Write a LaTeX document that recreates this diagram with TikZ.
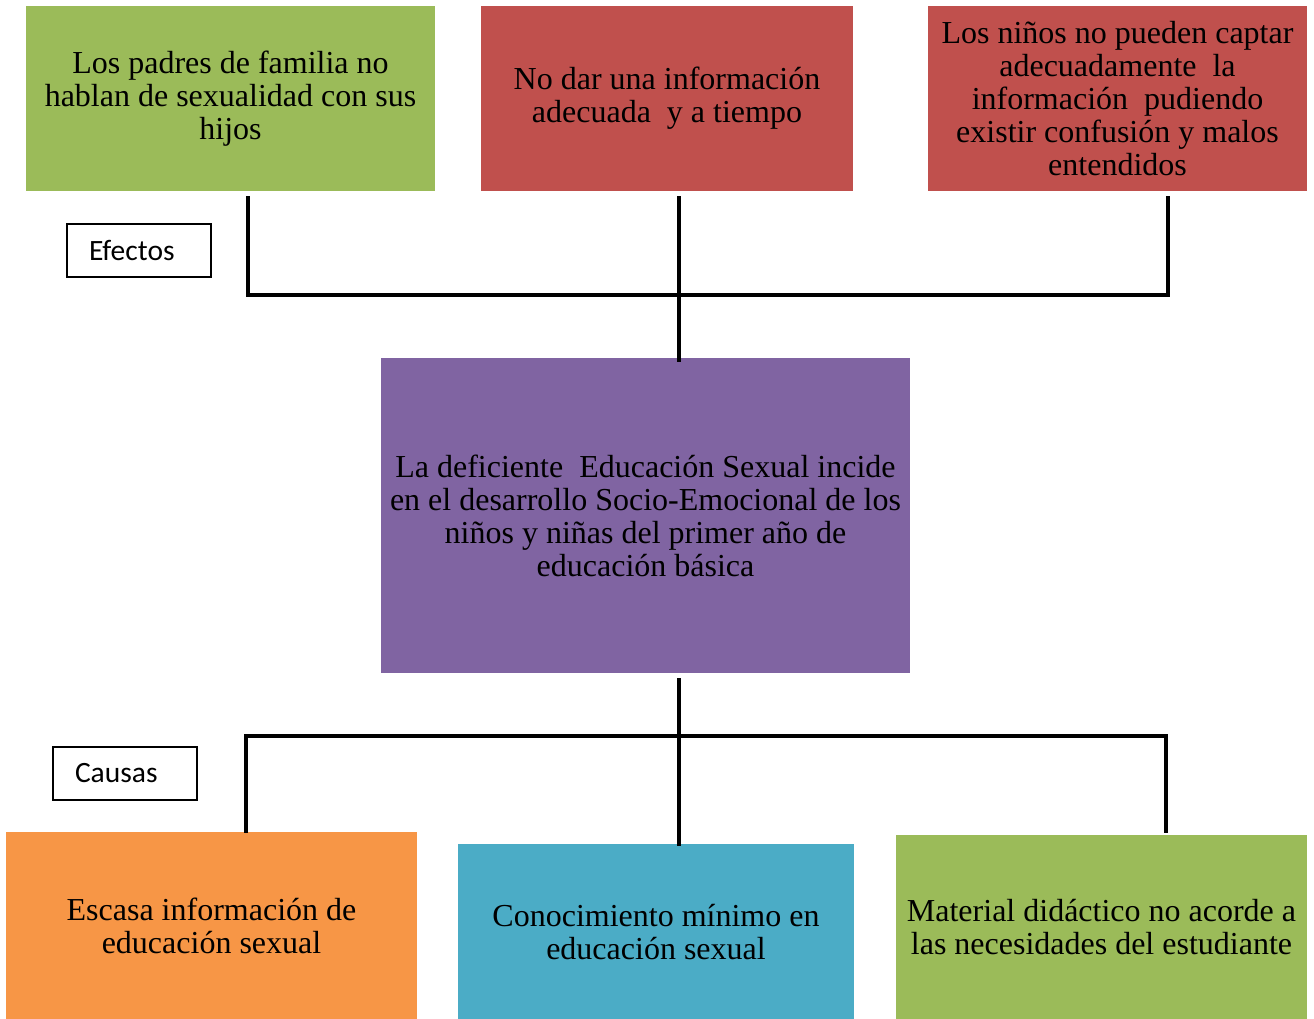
\documentclass[tikz,border=0pt]{standalone}
\usepackage{fontspec}
\setmainfont{Liberation Serif}
\newfontfamily\calib{Carlito}
\definecolor{cgreen}{HTML}{9BBB59}
\definecolor{cred}{HTML}{C0504D}
\definecolor{cpurple}{HTML}{8064A2}
\definecolor{corange}{HTML}{F79646}
\definecolor{cblue}{HTML}{4BACC6}
\tikzset{
  cbox/.style={rectangle, inner sep=0pt, align=center, font=\fontsize{32}{33}\selectfont},
  tagbox/.style={rectangle, draw=black, line width=1.6pt, inner xsep=22pt, inner ysep=0pt,
     text width=100pt, align=left, minimum height=53pt, font=\calib\fontsize{29.5}{30}\selectfont},
  bus/.style={line width=3.8pt, line cap=butt, line join=miter}
}
\begin{document}
\begin{tikzpicture}[x=1pt,y=-1pt]
\useasboundingbox (0,0) rectangle (1314,1019);
% effect boxes
\node[cbox, fill=cgreen, minimum width=409pt, minimum height=185pt] (e1) at (230.5,98.5)
  {Los padres de familia no\\hablan de sexualidad con sus\\hijos};
\node[cbox, fill=cred, minimum width=372pt, minimum height=185pt] (e2) at (667,98.5)
  {No dar una información\\adecuada\ \ y a tiempo};
\node[cbox, fill=cred, minimum width=379pt, minimum height=185pt] (e3) at (1117.5,98.5)
  {Los niños no pueden captar\\adecuadamente\ \ la\\información\ \ pudiendo\\existir confusión y malos\\entendidos};
% central problem
\node[cbox, fill=cpurple, minimum width=529pt, minimum height=315pt] (p) at (645.5,515.5)
  {La deficiente\ \ Educación Sexual incide\\en el desarrollo Socio-Emocional de los\\niños y niñas del primer año de\\educación básica};
% cause boxes
\node[cbox, fill=corange, minimum width=411pt, minimum height=187pt] (c1) at (211.5,925.5)
  {Escasa información de\\educación sexual};
\node[cbox, fill=cblue, minimum width=396pt, minimum height=177pt] (c2) at (656,932)
  {Conocimiento mínimo en\\educación sexual};
\node[cbox, fill=cgreen, minimum width=411pt, minimum height=184pt] (c3) at (1101.5,927)
  {Material didáctico no acorde a\\las necesidades del estudiante};
% tags
\node[tagbox] (tE) at (139,250.5) {\raisebox{-4pt}{Efectos}};
\node[tagbox] (tC) at (125,773.5) {\raisebox{-4pt}{Causas}};
% bus coordinates
\coordinate (ta) at (248,295);
\coordinate (tb) at (1168,295);
\coordinate (ba) at (246,736);
\coordinate (bb) at (1166,736);
% top connectors
\draw[bus] ([xshift=17.5pt,yshift=-5pt]e1.south) -- (ta) -- (tb) -- ([xshift=50.5pt,yshift=-5pt]e3.south);
\draw[bus] ([xshift=12pt,yshift=-5pt]e2.south) -- ([xshift=33.5pt,yshift=-4pt]p.north);
% bottom connectors
\draw[bus] ([xshift=33.5pt,yshift=-5pt]p.south) -- ([xshift=23pt,yshift=-3pt]c2.north);
\draw[bus] ([xshift=34.5pt,yshift=-1pt]c1.north) -- (ba) -- (bb) -- ([xshift=64.5pt,yshift=2pt]c3.north);
\end{tikzpicture}
\end{document}
